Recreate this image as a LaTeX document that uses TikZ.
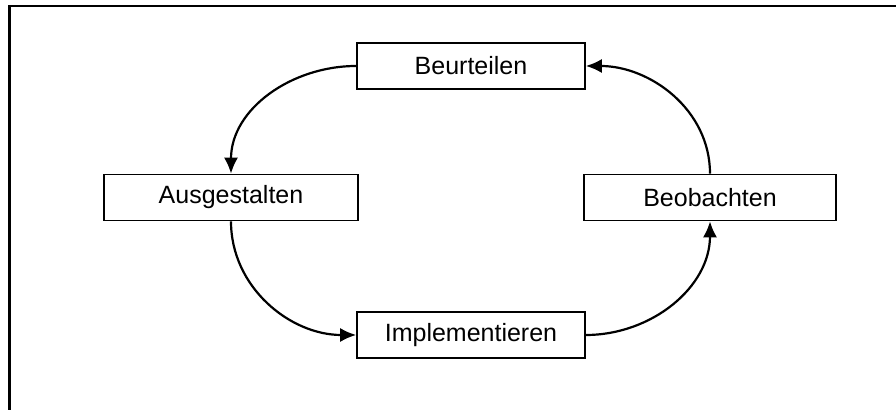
\documentclass[tikz,border=0pt]{standalone}
\usepackage{fontspec}
\setmainfont{Liberation Sans}
\usepackage{tikz}
\usetikzlibrary{arrows.meta,positioning}
\tikzset{
  stepbox/.style = {draw, rectangle, line width=0.8pt, minimum width=114pt,
  minimum height=23pt, inner sep=0pt, font=\fontsize{12.5}{15}\selectfont},
  cyclearrow/.style = {line width=1.1pt, -{Latex[length=8pt,width=7pt]}}
}

\begin{document}
\begin{tikzpicture}[x=0.5pt,y=-0.5pt]
  \useasboundingbox (0,0) rectangle (896,410);
  % frame
  \draw[line width=1.3pt] (9.5,410) -- (9.5,6.2) -- (896,6.2);
  % steps
  \node [stepbox] (beurteilen) at (471,66) {Beurteilen};
  \node [stepbox, minimum width=127pt] (ausgestalten) at (231,197.5) {Ausgestalten};
  \node [stepbox] (implementieren) at (471,335) {Implementieren};
  \node [stepbox, minimum width=126pt] (beobachten) at (710,197.5) {Beobachten};
  % cycle
  \draw[cyclearrow] (beurteilen.west) to[out=180,in=90] (ausgestalten.north);
  \draw[cyclearrow] (ausgestalten.south) to[out=-90,in=180] (implementieren.west);
  \draw[cyclearrow] (implementieren.east) to[out=0,in=-90] (beobachten.south);
  \draw[cyclearrow] (beobachten.north) to[out=90,in=0] (beurteilen.east);
\end{tikzpicture}
\end{document}
